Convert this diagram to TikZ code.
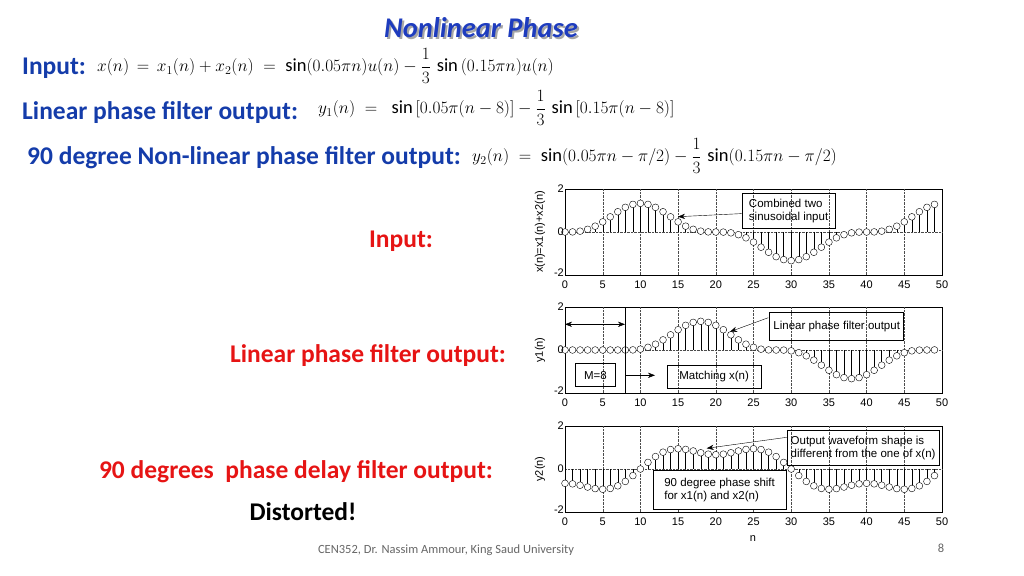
\documentclass[tikz,border=0pt]{standalone}
\usepackage{amsmath}
\usepackage{fontspec}
\setmainfont{Carlito}
\newfontfamily\plotfont{Liberation Sans}
\usetikzlibrary{arrows.meta}
\definecolor{tblue}{RGB}{30,60,190}
\definecolor{lblue}{RGB}{20,60,170}
\definecolor{tred}{RGB}{230,20,20}
\tikzset{
  lbl/.style={font=\fontsize{25.5}{28}\selectfont\bfseries, text=lblue, anchor=west, inner sep=0},
  rlbl/.style={font=\fontsize{25.5}{28}\selectfont\bfseries, text=tred, inner sep=0},
  eq/.style={font=\fontsize{18.5}{22}\selectfont, anchor=west, inner sep=0},
  tick/.style={font=\plotfont\fontsize{11}{12}\selectfont, inner sep=1pt},
  ann/.style={draw, thick, font=\plotfont\fontsize{11.5}{13}\selectfont, align=left, inner sep=2pt},
  arr/.style={-{Stealth[length=7pt]}, thin},
  grid/.style={densely dotted, black!70},
}
\newcommand\stemplot[3]{% #1 y of zero, #2 expression, #3 ylabel
  \draw[thin] (565,#1-43) rectangle (942,#1+43);
  \foreach \k in {5,10,...,45} \draw[grid] ({565+\k*7.54},#1-43) -- ({565+\k*7.54},#1+43);
  \draw[grid] (565,#1) -- (942,#1);
  \foreach \n in {0,...,49} {
    \pgfmathsetmacro\v{#2}
    \draw[thin] ({565+\n*7.54},#1) -- ({565+\n*7.54},{#1-21.5*\v});
    \draw[thin,fill=white] ({565+\n*7.54},{#1-21.5*\v}) circle (3.4);
  }
  \foreach \k in {0,5,...,50} \node[tick] at ({565+\k*7.54},#1+53) {\k};
  \node[tick,anchor=east] at (565,#1-43) {2};
  \node[tick,anchor=east] at (565,#1) {0};
  \node[tick,anchor=east] at (565,#1+41) {-2};
  \node[tick,rotate=90] at (540,#1) {#3};
}
\begin{document}
\begin{tikzpicture}[x=1pt,y=-1pt]
\useasboundingbox (0,0) rectangle (1024,575);
\node[font=\fontsize{28.5}{31}\selectfont\bfseries\itshape, text=black!35] at (483,30) {Nonlinear Phase};
\node[font=\fontsize{28.5}{31}\selectfont\bfseries\itshape, text=tblue] (title) at (481,28) {Nonlinear Phase};
\node[lbl] (l1) at (22,68) {Input:};
\node[eq] (e1) at (97,66) {$x(n)\,=\,x_1(n)+x_2(n)\;=\;\sin(0.05\pi n)u(n)-\dfrac{1}{3}\,\sin\,(0.15\pi n)u(n)$};
\node[lbl] (l2) at (22,113) {Linear phase filter output:};
\node[eq] (e2) at (318,108) {$y_1(n)\;=\;\;\sin\,[0.05\pi(n-8)]-\dfrac{1}{3}\,\sin\,[0.15\pi(n-8)]$};
\node[lbl] (l3) at (27,158) {90 degree Non-linear phase filter output:};
\node[eq] (e3) at (472,156) {$y_2(n)\;=\;\sin(0.05\pi n-\pi/2)-\dfrac{1}{3}\,\sin(0.15\pi n-\pi/2)$};
\node[rlbl] (r1) at (401,241) {Input:};
\node[rlbl] (r2) at (368,356) {Linear phase filter output:};
\node[rlbl] (r3) at (296,472) {90 degrees\ \ phase delay filter output:};
\node[font=\fontsize{25.5}{28}\selectfont\bfseries, inner sep=0] (d) at (303,512) {Distorted!};
\node[font=\fontsize{12.5}{14}\selectfont, text=black!60] (f) at (446,550) {CEN352, Dr. Nassim Ammour, King Saud University};
\node[font=\fontsize{12.5}{14}\selectfont, text=black!60] (pg) at (941,548) {8};
% plots
\stemplot{232}{sin(9*\n)-sin(27*\n)/3}{x(n)=x1(n)+x2(n)}
\stemplot{350}{(\n>=8)*(sin(9*(\n-8))-sin(27*(\n-8))/3)}{y1(n)}
\stemplot{469}{-cos(9*\n)+cos(27*\n)/3}{y2(n)}
\node[tick] (nlab) at (753,539) {n};
% annotations plot 1
\node[ann, minimum width=93pt, minimum height=35pt, anchor=north west] (a1) at (741.7,192.7) {Combined two\\sinusoidal input};
\coordinate (t1) at (678,216.7);
\draw[arr] (a1.west) ++(0,3) coordinate (s1) -- (t1);
% plot 2
\coordinate (dl) at (565,324.3); \coordinate (dr) at (625,324.3);
\draw[{Stealth[length=7pt]}-{Stealth[length=7pt]}] (dl) -- (dr);
\draw[thin] (625.3,307) -- (625.3,393);
\node[ann, minimum width=134pt, minimum height=28pt, anchor=north west] (a2) at (769.3,311.7) {Linear phase filter output};
\coordinate (t2) at (730,331.7);
\draw[arr] (768.3,317.7) -- (t2);
\node[ann, minimum width=40pt, minimum height=23pt, anchor=north west] (m8) at (575,363.3) {M=8};
\node[ann, minimum width=94pt, minimum height=23pt, anchor=north west] (mx) at (666.7,365) {Matching x(n)};
\coordinate (s3) at (625.3,375.3); \coordinate (t3) at (655,375.3);
\draw[arr] (s3) -- (t3);
% plot 3
\node[ann, minimum width=152pt, minimum height=35pt, anchor=north west] (a3) at (786.7,430) {Output waveform shape is\\different from the one of x(n)};
\coordinate (t4) at (706.7,448.3);
\draw[arr] (786.7,437.3) -- (t4);
\node[ann, fill=white, minimum width=133pt, minimum height=39pt, anchor=north west] (a4) at (652.7,470) {90 degree phase shift\\for x1(n) and x2(n)};
\end{tikzpicture}
\end{document}
